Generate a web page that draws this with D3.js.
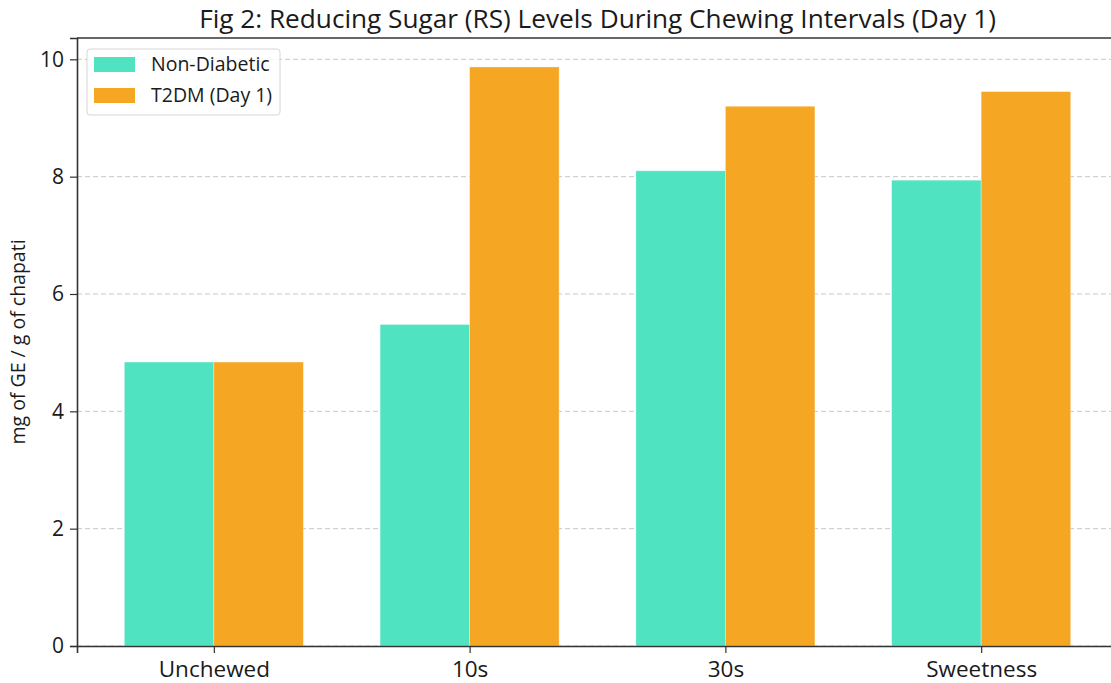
<!DOCTYPE html>
<html>
<head>
<meta charset="utf-8">
<script src="https://cdn.jsdelivr.net/npm/d3@7"></script>
<style>
  body { margin: 0; background: #fff; }
  svg text { font-family: "Open Sans", "Noto Sans", sans-serif; fill: #1a1a1a; }
</style>
</head>
<body>
<div id="chart"></div>
<script>
// chart data
const categories = ['Unchewed', '10s', '30s', 'Sweetness'];
const seriesNames = ['Non-Diabetic', 'T2DM (Day 1)'];
const nonDiabetic = [4.84, 5.48, 8.10, 7.94];
const t2dm = [4.84, 9.87, 9.20, 9.45];
const yTicks = [0, 2, 4, 6, 8, 10];
const colors = ['#50E3C2', '#F5A623'];

const W = 1111, H = 683;
const margin = { top: 38, left: 77, bottom: 37, right: -7 };
const width = W - margin.left - margin.right;
const height = H - margin.top - margin.bottom;

const svg = d3.select('#chart').append('svg')
  .attr('width', W)
  .attr('height', H);

const chart = svg.append('g')
  .attr('transform', 'translate(' + margin.left + ',' + margin.top + ')');

// matplotlib style: bars at integer positions, width 0.35, 5% margins
const barW = 0.35;
const lo = -barW, hi = categories.length - 1 + barW;
const pad = (hi - lo) * 0.05;
const x = d3.scaleLinear().domain([lo - pad, hi + pad]).range([0, width]);
const yMax = d3.max(t2dm.concat(nonDiabetic)) * 1.05;
const y = d3.scaleLinear().domain([0, yMax]).range([height, 0]);

// grid
chart.append('g')
  .selectAll('line')
  .data(yTicks)
  .enter()
  .append('line')
  .attr('x1', 0).attr('x2', width)
  .attr('y1', d => y(d)).attr('y2', d => y(d))
  .attr('stroke', '#c8c8c8')
  .attr('stroke-width', 1)
  .attr('stroke-dasharray', '5,3');

// bars
const series = [nonDiabetic, t2dm];
series.forEach(function (vals, s) {
  chart.append('g')
    .selectAll('rect')
    .data(vals)
    .enter()
    .append('rect')
    .attr('x', (d, i) => x(i + (s - 1) * barW))
    .attr('y', d => y(d))
    .attr('width', x(barW) - x(0))
    .attr('height', d => height - y(d))
    .attr('fill', colors[s])
    .attr('stroke', '#fff')
    .attr('stroke-opacity', 0.4)
    .attr('stroke-width', 0.8);
});

// axes
const yAxis = chart.append('g')
  .call(d3.axisLeft(y).tickValues(yTicks).tickSize(7).tickPadding(6));
const xAxis = chart.append('g')
  .attr('transform', 'translate(0,' + height + ')')
  .call(d3.axisBottom(x).tickValues(d3.range(categories.length))
    .tickFormat(i => categories[i]).tickSize(7).tickPadding(6));
[yAxis, xAxis].forEach(function (a) {
  a.select('.domain').attr('stroke', '#333').attr('stroke-width', 1.6);
  a.selectAll('.tick line').attr('stroke', '#333').attr('stroke-width', 1.2);
  a.selectAll('.tick text').attr('fill', '#1a1a1a')
    .style('font-family', '"Open Sans", "Noto Sans", sans-serif');
});
yAxis.selectAll('.tick text').attr('font-size', 21);
xAxis.selectAll('.tick text').attr('font-size', 22.5).attr('dy', '0.78em');

// top spine
chart.append('line')
  .attr('x1', 0).attr('x2', width).attr('y1', 0).attr('y2', 0)
  .attr('stroke', '#333').attr('stroke-width', 1.6);

// title
svg.append('text')
  .attr('x', margin.left + width / 2)
  .attr('y', 28)
  .attr('text-anchor', 'middle')
  .attr('font-size', 26.2)
  .text('Fig 2: Reducing Sugar (RS) Levels During Chewing Intervals (Day 1)');

// y label
svg.append('text')
  .attr('transform', 'translate(25,' + (margin.top + height / 2) + ') rotate(-90)')
  .attr('text-anchor', 'middle')
  .attr('font-size', 19.5)
  .text('mg of GE / g of chapati');

// legend
const legend = svg.append('g').attr('transform', 'translate(87,49)');
legend.append('rect')
  .attr('width', 193).attr('height', 66).attr('rx', 3)
  .attr('fill', '#fff').attr('fill-opacity', 0.8)
  .attr('stroke', '#d6d6d6').attr('stroke-width', 1);
seriesNames.forEach(function (name, i) {
  legend.append('rect')
    .attr('x', 7).attr('y', 8 + i * 31)
    .attr('width', 41).attr('height', 15)
    .attr('fill', colors[i]);
  legend.append('text')
    .attr('x', 64).attr('y', 22 + i * 31)
    .attr('font-size', 19.5)
    .text(name);
});
</script>
</body>
</html>
